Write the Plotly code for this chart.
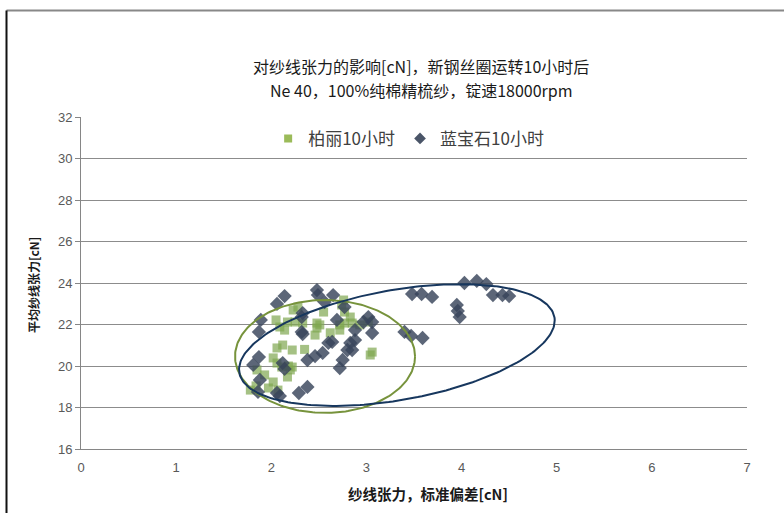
import numpy as np
import plotly.graph_objects as go

# 柏丽 travellers after 10 h: (std dev of yarn tension, mean yarn tension), cN
baili_sd = [2.23, 2.28, 2.09, 2.17, 2.14, 2.25, 2.33, 2.48, 2.48, 2.46, 2.55,
            2.06, 2.22, 2.02, 2.06, 2.11, 2.18, 2.20, 2.17, 2.02, 1.97, 2.07,
            1.85, 1.78, 2.74, 2.77, 2.83, 2.72, 2.77, 2.85, 2.93, 2.72, 3.02,
            3.06, 3.04, 2.22, 1.93, 2.51, 2.12, 2.05, 1.84, 2.76, 2.35, 2.62]
baili_mean = [22.70, 22.84, 21.88, 22.12, 21.73, 22.12, 22.07, 22.07, 21.83,
              21.49, 22.60, 20.87, 20.77, 20.39, 20.14, 19.95, 20.00, 19.81,
              19.47, 19.23, 18.94, 18.84, 19.81, 18.84, 22.94, 22.60, 22.36,
              21.98, 22.07, 22.07, 21.98, 21.73, 22.12, 20.67, 20.53, 19.95,
              19.57, 21.98, 21.01, 22.22, 19.04, 23.18, 20.80, 21.60]

# 蓝宝石 travellers after 10 h
lanbaoshi_sd = [1.89, 1.87, 2.06, 2.14, 1.81, 1.87, 2.12, 2.14, 1.88, 1.86,
                2.06, 2.09, 2.29, 2.38, 2.33, 2.32, 2.32, 2.33, 2.48, 2.49,
                2.56, 2.65, 2.38, 2.46, 2.54, 2.60, 2.64, 2.69, 2.77, 2.88,
                2.88, 2.83, 2.80, 2.85, 2.75, 2.72, 3.02, 3.06, 3.06, 2.97,
                3.40, 3.47, 3.59, 3.48, 3.58, 3.69, 3.95, 3.96, 3.98, 4.03,
                4.16, 4.26, 4.33, 4.43, 4.50]
lanbaoshi_mean = [22.22, 21.64, 22.99, 23.37, 20.05, 20.43, 20.14, 19.86,
                  19.33, 18.75, 18.70, 18.55, 18.70, 18.99, 22.55, 22.36,
                  21.64, 21.54, 23.66, 23.42, 23.08, 23.42, 20.29, 20.48,
                  20.63, 21.11, 21.16, 22.22, 22.84, 21.73, 21.25, 21.11,
                  20.77, 20.77, 20.29, 19.90, 22.36, 22.12, 21.59, 22.12,
                  21.64, 21.45, 21.35, 23.47, 23.47, 23.33, 22.94, 22.65,
                  22.36, 24.00, 24.10, 23.95, 23.42, 23.42, 23.37]

x_ticks = [0, 1, 2, 3, 4, 5, 6, 7]
y_ticks = [16, 18, 20, 22, 24, 26, 28, 30, 32]

title_lines = ["对纱线张力的影响[cN]，新钢丝圈运转10小时后",
               "Ne 40，100%纯棉精梳纱，锭速18000rpm"]

FONT = "Liberation Sans, Noto Sans CJK SC, sans-serif"
CJK = "Noto Sans CJK SC, Liberation Sans, sans-serif"

GREEN = "#7FA650"
NAVY_MARK = "#38445A"

# plot area in pixels: x 81..747, y 117..449
L, R, T, B = 81, 747, 117, 449


def px(x):
    return (x - L) / (R - L)


def py(y):
    return (B - y) / (B - T)


fig = go.Figure()

fig.add_trace(go.Scatter(
    x=baili_sd, y=baili_mean, mode="markers", name="柏丽10小时",
    showlegend=False,
    marker=dict(symbol="square", size=9, color=GREEN, opacity=0.7,
                line=dict(width=0)),
))
fig.add_trace(go.Scatter(
    x=lanbaoshi_sd, y=lanbaoshi_mean, mode="markers", name="蓝宝石10小时",
    showlegend=False,
    marker=dict(symbol="diamond", size=11, color=NAVY_MARK, opacity=0.82,
                line=dict(width=0)),
))

# Legend entries with compact symbols
fig.add_trace(go.Scatter(
    x=[None], y=[None], mode="markers", name="柏丽10小时",
    marker=dict(symbol="square", size=8, color="#9BBB59", line=dict(width=0)),
))
fig.add_trace(go.Scatter(
    x=[None], y=[None], mode="markers", name="蓝宝石10小时",
    marker=dict(symbol="diamond", size=9, color="#4A5568", line=dict(width=0)),
))

# Hand-drawn grouping ellipses
t = np.linspace(0, 2 * np.pi, 240)
gx = 2.565 + 0.946 * np.cos(t)
gy = 20.46 + 2.72 * np.sin(t)
fig.add_trace(go.Scatter(x=gx, y=gy, mode="lines", showlegend=False,
                         hoverinfo="skip",
                         line=dict(color="#77933C", width=2)))
bx = 3.32 + 1.656 * np.cos(t) - 0.100 * np.sin(t)
by = 21.01 + 1.339 * np.cos(t) + 2.611 * np.sin(t)
fig.add_trace(go.Scatter(x=bx, y=by, mode="lines", showlegend=False,
                         hoverinfo="skip",
                         line=dict(color="#17375E", width=2)))

fig.update_layout(
    width=784, height=513,
    margin=dict(l=L, r=784 - R, t=T, b=513 - B),
    paper_bgcolor="white", plot_bgcolor="white",
    font=dict(family=FONT, size=13, color="#595959"),
    legend=dict(
        orientation="h", x=0.281, xanchor="left", y=0.934, yanchor="middle",
        font=dict(family=CJK, size=17, color="#404040"),
        bgcolor="rgba(0,0,0,0)",
    ),
    showlegend=True,
)

fig.update_xaxes(
    range=[0, 7], tickvals=x_ticks, ticktext=[str(v) for v in x_ticks],
    showgrid=False, zeroline=False, showline=True, linecolor="#868686",
    linewidth=1, ticks="", ticklabelstandoff=6,
    tickfont=dict(size=13, color="#595959"), fixedrange=True,
)
fig.update_yaxes(
    range=[16, 32], tickvals=y_ticks, ticktext=[str(v) for v in y_ticks],
    showgrid=True, gridcolor="#8C8C8C", gridwidth=1, zeroline=False,
    showline=True, linecolor="#868686", linewidth=1,
    ticks="outside", ticklen=5, tickcolor="#868686",
    tickfont=dict(size=13, color="#595959"), fixedrange=True,
)

# Two-line chart title, one annotation per line
for text, ypix in zip(title_lines, [65.5, 89.5]):
    fig.add_annotation(text=text, xref="paper", yref="paper",
                       x=px(421), y=py(ypix), showarrow=False,
                       xanchor="center", yanchor="middle", borderpad=0,
                       font=dict(family=CJK, size=16, color="#1A1A1A"))

# Axis titles
fig.add_annotation(text="纱线张力，标准偏差[cN]", xref="paper", yref="paper",
                   x=px(428), y=py(494), showarrow=False,
                   xanchor="center", yanchor="middle",
                   font=dict(family=CJK, size=14.5, color="#1A1A1A",
                             weight="bold"))
fig.add_annotation(text="平均纱线张力[cN]", xref="paper", yref="paper",
                   x=px(33), y=py(285), showarrow=False,
                   textangle=-90, xanchor="center", yanchor="middle",
                   font=dict(family=CJK, size=12, color="#1A1A1A",
                             weight="bold"))

# Chart frame edges
fig.add_shape(type="line", xref="paper", yref="paper",
              x0=px(6.5), x1=px(784), y0=py(10.5), y1=py(10.5),
              line=dict(color="#888888", width=2))
fig.add_shape(type="line", xref="paper", yref="paper",
              x0=px(6.5), x1=px(6.5), y0=py(10.5), y1=py(513),
              line=dict(color="#111111", width=2))

fig.write_html("out.html")
